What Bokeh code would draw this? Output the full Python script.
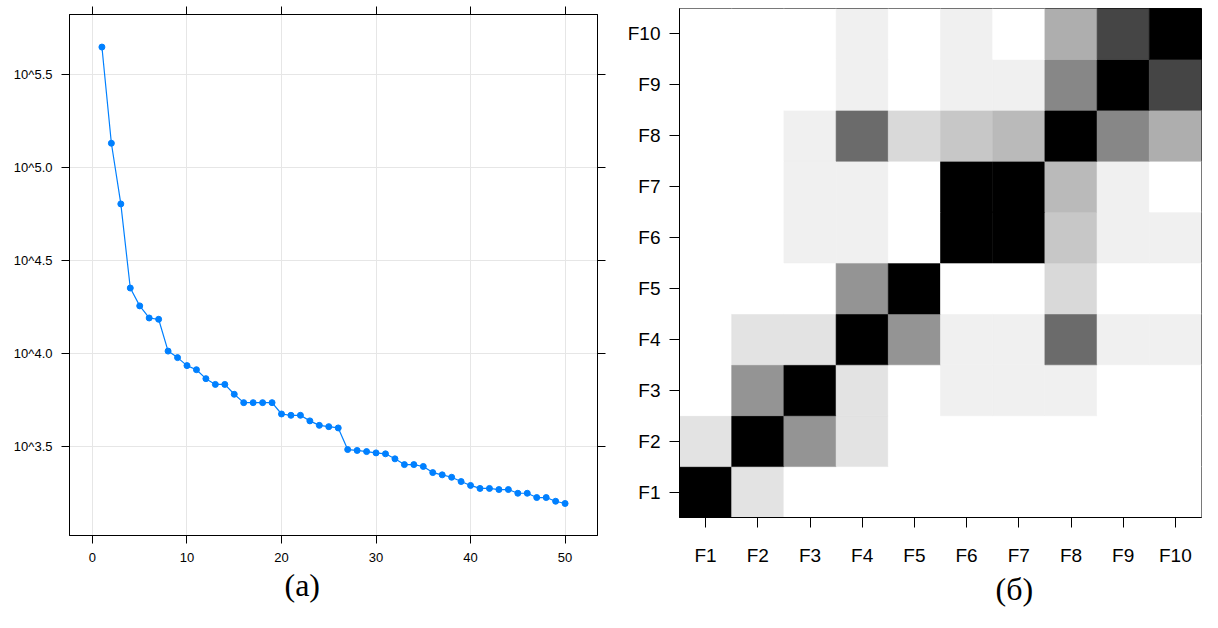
from bokeh.plotting import figure
from bokeh.models import (Range1d, LinearAxis, FixedTicker, ColumnDataSource,
                          LinearColorMapper, Title, FactorRange)
from bokeh.layouts import row
from bokeh.embed import file_html
from bokeh.resources import INLINE
from bokeh.transform import transform

# ---------------- data: panel (а) ----------------
component = list(range(1, 51))
log10_value = [5.647, 5.130, 4.804, 4.352, 4.256, 4.191, 4.184, 4.013, 3.978, 3.935,
               3.913, 3.865, 3.834, 3.834, 3.781, 3.736, 3.736, 3.736, 3.736, 3.675,
               3.668, 3.668, 3.638, 3.614, 3.607, 3.600, 3.484, 3.479, 3.473, 3.466,
               3.461, 3.434, 3.403, 3.403, 3.393, 3.360, 3.348, 3.335, 3.312, 3.291,
               3.275, 3.275, 3.269, 3.269, 3.249, 3.249, 3.226, 3.226, 3.206, 3.194]
x_ticks = [0, 10, 20, 30, 40, 50]
y_ticks = [3.5, 4.0, 4.5, 5.0, 5.5]
y_tick_labels = ["10^3.5", "10^4.0", "10^4.5", "10^5.0", "10^5.5"]

# ---------------- data: panel (б) ----------------
features = ["F1", "F2", "F3", "F4", "F5", "F6", "F7", "F8", "F9", "F10"]
# similarity[i][j]: row = features[i] (y), column = features[j] (x)
similarity = [
    [1.00, 0.11, 0.00, 0.00, 0.00, 0.00, 0.00, 0.00, 0.00, 0.00],
    [0.11, 1.00, 0.42, 0.11, 0.00, 0.00, 0.00, 0.00, 0.00, 0.00],
    [0.00, 0.42, 1.00, 0.11, 0.00, 0.06, 0.06, 0.06, 0.00, 0.00],
    [0.00, 0.11, 0.11, 1.00, 0.42, 0.06, 0.06, 0.58, 0.06, 0.06],
    [0.00, 0.00, 0.00, 0.42, 1.00, 0.00, 0.00, 0.15, 0.00, 0.00],
    [0.00, 0.00, 0.06, 0.06, 0.00, 1.00, 1.00, 0.22, 0.06, 0.06],
    [0.00, 0.00, 0.06, 0.06, 0.00, 1.00, 1.00, 0.27, 0.06, 0.00],
    [0.00, 0.00, 0.06, 0.58, 0.15, 0.22, 0.27, 1.00, 0.47, 0.32],
    [0.00, 0.00, 0.00, 0.06, 0.00, 0.06, 0.06, 0.47, 1.00, 0.73],
    [0.00, 0.00, 0.00, 0.06, 0.00, 0.06, 0.00, 0.32, 0.73, 1.00],
]

SANS = "Liberation Sans"
SERIF = "Liberation Serif"

# ---------------- panel (а) ----------------
p1 = figure(width=620, height=612,
            x_range=Range1d(-2.43, 53.43), y_range=Range1d(3.022, 5.822),
            output_backend="svg", toolbar_location=None, frame_align=False,
            min_border_left=69, min_border_right=23,
            min_border_top=14, min_border_bottom=77)
p1.outline_line_color = "black"
p1.outline_line_width = 1

bx = p1.below[0]
ly = p1.left[0]
bx.ticker = FixedTicker(ticks=x_ticks)
ly.ticker = FixedTicker(ticks=y_ticks)
ly.major_label_overrides = {t: l for t, l in zip(y_ticks, y_tick_labels)}
for ax in (bx, ly):
    ax.major_tick_out = 8
    ax.major_tick_in = 0
    ax.minor_tick_out = 0
    ax.minor_tick_in = 0
    ax.major_label_text_font = SANS
    ax.major_label_text_font_size = "13px"
    ax.major_label_text_color = "black"
    ax.axis_line_color = "black"
    ax.major_tick_line_color = "black"
ly.major_label_standoff = 9
bx.major_label_standoff = 9

top_ax = LinearAxis(ticker=FixedTicker(ticks=x_ticks),
                    major_label_overrides={t: "" for t in x_ticks},
                    major_label_text_font_size="1px",
                    major_label_standoff=0, major_tick_out=8, major_tick_in=0,
                    minor_tick_out=0, minor_tick_in=0, axis_line_color="black",
                    major_tick_line_color="black")
right_ax = LinearAxis(ticker=FixedTicker(ticks=y_ticks),
                      major_label_overrides={t: "" for t in y_ticks},
                      major_label_text_font_size="1px",
                      major_label_standoff=0, major_tick_out=8, major_tick_in=0,
                      minor_tick_out=0, minor_tick_in=0, axis_line_color="black",
                      major_tick_line_color="black")
p1.add_layout(top_ax, "above")
p1.add_layout(right_ax, "right")

p1.xgrid.ticker = FixedTicker(ticks=x_ticks)
p1.ygrid.ticker = FixedTicker(ticks=y_ticks)
p1.grid.grid_line_color = "#E6E6E6"
p1.grid.grid_line_width = 1

src1 = ColumnDataSource(dict(x=component, y=log10_value))
p1.line("x", "y", source=src1, line_color="#0080FF", line_width=1.2)
p1.scatter("x", "y", source=src1, size=6, fill_color="#0080FF", line_color="#0080FF")

t1 = Title(text="(а)", align="left", offset=215, text_font=SERIF,
           text_font_size="32px", text_font_style="normal", text_color="black", standoff=0)
p1.add_layout(t1, "below")

# ---------------- panel (б) ----------------
xs, ys, vs = [], [], []
for i, fy in enumerate(features):
    for j, fx in enumerate(features):
        xs.append(fx)
        ys.append(fy)
        vs.append(similarity[i][j])
src2 = ColumnDataSource(dict(x=xs, y=ys, v=vs))

gray_palette = ["#%02x%02x%02x" % (255 - k, 255 - k, 255 - k) for k in range(256)]
mapper = LinearColorMapper(palette=gray_palette, low=0.0, high=1.0)

p2 = figure(width=582, height=612,
            x_range=FactorRange(*features), y_range=FactorRange(*features),
            output_backend="svg", toolbar_location=None, frame_align=False,
            min_border_left=59, min_border_right=1,
            min_border_top=8, min_border_bottom=95)
p2.grid.visible = False
p2.outline_line_color = "black"
p2.outline_line_width = 1

p2.rect("x", "y", width=1, height=1, source=src2,
        fill_color=transform("v", mapper), line_color=transform("v", mapper), line_width=0.6)

for ax in (p2.xaxis[0], p2.yaxis[0]):
    ax.major_tick_out = 10
    ax.major_tick_in = 0
    ax.major_label_text_font = SANS
    ax.major_label_text_font_size = "19px"
    ax.major_label_text_color = "black"
    ax.axis_line_color = "black"
    ax.major_tick_line_color = "black"
p2.xaxis[0].major_label_standoff = 17
p2.yaxis[0].major_label_standoff = 9

t2 = Title(text="(б)", align="left", offset=316, text_font=SERIF,
           text_font_size="32px", text_font_style="normal", text_color="black", standoff=0)
p2.add_layout(t2, "below")

layout = row(p1, p2)
open("out.html", "w").write(file_html(layout, INLINE))
